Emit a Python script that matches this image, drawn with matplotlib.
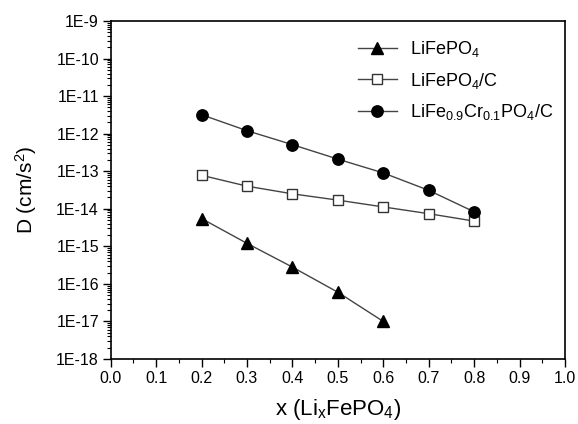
import matplotlib
matplotlib.use("Agg")
import math
import matplotlib.pyplot as plt
from matplotlib.ticker import LogLocator, FuncFormatter, MultipleLocator, NullFormatter

plt.rcParams['font.family'] = ['Liberation Sans', 'DejaVu Sans']
plt.rcParams['mathtext.fontset'] = 'custom'
plt.rcParams['mathtext.rm'] = 'Liberation Sans'
plt.rcParams['mathtext.it'] = 'Liberation Sans'

x_lfp = [0.2, 0.3, 0.4, 0.5, 0.6]
d_lfp = [5.5e-15, 1.2e-15, 2.8e-16, 6.0e-17, 1.0e-17]

x_lfpc = [0.2, 0.3, 0.4, 0.5, 0.6, 0.7, 0.8]
d_lfpc = [7.8e-14, 4.0e-14, 2.5e-14, 1.7e-14, 1.12e-14, 7.4e-15, 4.7e-15]

x_cr = [0.2, 0.3, 0.4, 0.5, 0.6, 0.7, 0.8]
d_cr = [3.2e-12, 1.2e-12, 5.1e-13, 2.1e-13, 9.0e-14, 3.1e-14, 8.3e-15]

labels = [r'LiFePO$_4$', r'LiFePO$_4$/C', r'LiFe$_{0.9}$Cr$_{0.1}$PO$_4$/C']

fig = plt.figure(figsize=(5.78, 4.24), dpi=100)
ax = fig.add_axes([110.7/578, 1 - 359/424, (565 - 110.7)/578, (359 - 21)/424])

lc = '#444444'
ax.plot(x_lfp, d_lfp, '-', color=lc, lw=1.0, marker='^', ms=8.5, mfc='black', mec='black', label=labels[0])
ax.plot(x_lfpc, d_lfpc, '-', color=lc, lw=1.0, marker='s', ms=6.5, mfc='white', mec='#333333', mew=1.0, label=labels[1])
ax.plot(x_cr, d_cr, '-', color=lc, lw=1.0, marker='o', ms=8.2, mfc='black', mec='black', label=labels[2])

ax.set_yscale('log')
ax.set_ylim(1e-18, 1e-9)
ax.set_xlim(0.0, 1.0)
ax.xaxis.set_major_locator(MultipleLocator(0.1))
ax.xaxis.set_minor_locator(MultipleLocator(0.05))
ax.xaxis.set_major_formatter(FuncFormatter(lambda v, p: f'{v:.1f}'))
ax.yaxis.set_major_locator(LogLocator(base=10, numticks=20))
ax.yaxis.set_minor_locator(LogLocator(base=10, subs=range(2, 10), numticks=20))
ax.yaxis.set_minor_formatter(NullFormatter())
ax.yaxis.set_major_formatter(FuncFormatter(lambda v, p: f'1E{int(round(math.log10(v)))}'))

ax.tick_params(axis='both', which='major', direction='out', length=6, width=1, labelsize=11.5, pad=2.5)
ax.tick_params(axis='both', which='minor', direction='out', length=3, width=0.8)
ax.tick_params(top=False, right=False)
for s in ax.spines.values():
    s.set_linewidth(1.2)

ax.set_xlabel(r'x (Li$_x$FePO$_4$)', fontsize=16, labelpad=8)
ax.set_ylabel(r'D (cm/s$^2$)', fontsize=15, labelpad=12)

ax.legend(loc='upper right', bbox_to_anchor=(1.01, 0.995), frameon=False, fontsize=13,
          handlelength=2.2, labelspacing=0.65, handletextpad=0.7)

fig.savefig('out.png', dpi=100)
